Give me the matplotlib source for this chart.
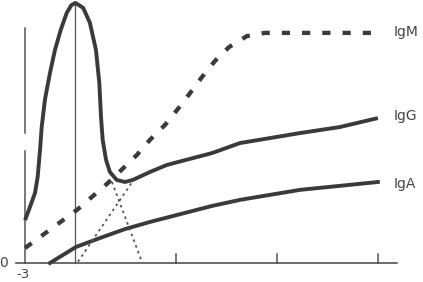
import matplotlib
matplotlib.use("Agg")
import matplotlib.pyplot as plt

# ---- data (months relative to birth, relative serum level) ----
igg_total_x = [-3.0, -2.71, -2.41, -2.25, -2.11, -2.01, -1.82, -1.52, -1.22, -0.88, -0.52, -0.25,
               0.0, 0.46, 0.86, 1.22, 1.42, 1.52, 1.62, 1.82, 2.05, 2.45, 2.95, 3.42,
               4.43, 5.45, 8.13, 9.79, 13.36, 15.74, 18.0]
igg_total_y = [16.3, 21.3, 26.6, 32.7, 43.0, 51.7, 62.0, 72.2, 81.0, 88.6, 95.1, 98.0,
               98.9, 97.0, 91.3, 81.0, 68.4, 55.5, 46.8, 39.2, 34.6, 31.6, 30.8, 31.6,
               34.6, 37.3, 41.8, 45.6, 49.4, 51.7, 55.1]

igm_x = [-3.0, 0.09, 1.93, 3.66, 4.43, 5.33, 6.10, 6.82, 7.53, 8.30, 9.14, 10.21, 11.28, 17.7]
igm_y = [5.7, 20.2, 30.4, 41.1, 46.8, 52.5, 58.6, 64.6, 70.7, 76.8, 82.1, 86.3, 87.5, 87.5]

iga_x = [-1.52, 0.03, 1.46, 2.95, 4.43, 8.13, 9.79, 13.36, 18.0]
iga_y = [0.0, 6.1, 9.5, 12.9, 15.6, 21.7, 24.0, 27.8, 30.8]

own_igg_x = [0.15, 3.40]
own_igg_y = [0.5, 31.0]

maternal_decay_x = [2.17, 3.96]
maternal_decay_y = [30.8, 0.4]

labels = ["IgM", "IgG", "IgA"]
label_y = [86.3, 54.4, 28.5]
tick_months = [6, 12, 18]

# ---- figure ----
W, H = 423, 282
fig = plt.figure(figsize=(W / 100, H / 100), dpi=100)
ax = fig.add_axes([16 / W, 19 / H, 381 / W, 263 / H])
ax.set_xlim(-3.54, 19.14)
ax.set_ylim(0, 100)
for s in ["left", "right", "top"]:
    ax.spines[s].set_visible(False)
ax.spines["bottom"].set_color("#444444")
ax.spines["bottom"].set_linewidth(1.1)
ax.set_xticks([])
ax.set_yticks([])

dark = "#3a3a3a"
thin = "#555555"

# broken y axis at -3 months and birth line
ax.plot([-3.0, -3.0], [0, 42.5], color=thin, lw=1.1, clip_on=False)
ax.plot([-3.0, -3.0], [49.4, 89.4], color=thin, lw=1.1, clip_on=False)
ax.plot([0, 0], [0, 99.0], color=thin, lw=0.9, clip_on=False)

# small ticks
for m in tick_months:
    ax.plot([m, m], [0, 3.6], color=thin, lw=1.1, clip_on=False)

ax.plot(igg_total_x, igg_total_y, color=dark, lw=2.8, solid_joinstyle="round",
        solid_capstyle="butt", clip_on=False)
ax.plot(iga_x, iga_y, color=dark, lw=2.8, solid_joinstyle="round", clip_on=False)
ax.plot(igm_x, igm_y, color=dark, lw=3.1, dashes=(1.9, 2.8), clip_on=False)
ax.plot(own_igg_x, own_igg_y, color="#555555", lw=1.3, dashes=(1.4, 2.0))
ax.plot(maternal_decay_x, maternal_decay_y, color="#555555", lw=1.3, dashes=(1.4, 2.0))

for lab, y in zip(labels, label_y):
    ax.text(18.96, y, lab, fontsize=10, color="#444444", va="baseline", ha="left",
            family="DejaVu Sans")

fig.text(4 / W, 1 - 263 / H, "0", fontsize=10, color="#444444", ha="center", va="center")
fig.text(23 / W, 1 - 275 / H, "-3", fontsize=9.5, color="#444444", ha="center", va="center")

fig.savefig("out.png", dpi=100, facecolor="white")
